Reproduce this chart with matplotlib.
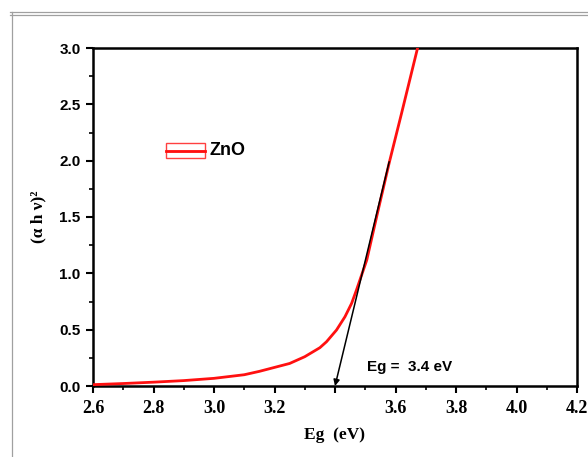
import matplotlib
matplotlib.use("Agg")
import matplotlib.pyplot as plt
from matplotlib.patches import Rectangle
from matplotlib.lines import Line2D
from matplotlib.ticker import MultipleLocator

# Data
energy = [2.60, 2.70, 2.80, 2.90, 3.00, 3.10, 3.15, 3.20, 3.25, 3.30, 3.35,
          3.372, 3.405, 3.433, 3.455, 3.471, 3.488, 3.505, 3.54, 3.58, 3.62, 3.673]
absorb = [0.012, 0.022, 0.034, 0.048, 0.068, 0.10, 0.13, 0.165, 0.20, 0.26, 0.34,
          0.393, 0.497, 0.615, 0.734, 0.852, 0.985, 1.118, 1.53, 1.99, 2.42, 3.0]
series_name = "ZnO"
tangent_start = (3.579, 1.99)
band_gap = 3.4
xtick_vals = [2.6, 2.8, 3.0, 3.2, 3.4, 3.6, 3.8, 4.0, 4.2]
xtick_labels = ["2.6", "2.8", "3.0", "3.2", "", "3.6", "3.8", "4.0", "4.2"]
ytick_vals = [0.0, 0.5, 1.0, 1.5, 2.0, 2.5, 3.0]
ytick_labels = ["0.0", "0.5", "1.0", "1.5", "2.0", "2.5", "3.0"]

W, H = 588, 457
fig = plt.figure(figsize=(W / 100, H / 100), dpi=100)

# screenshot frame lines
frame_col = "#a0a0a0"
fig.add_artist(Line2D([10 / W, 1], [1 - 12 / H, 1 - 12 / H], color=frame_col, lw=0.9))
fig.add_artist(Line2D([10 / W, 1], [1 - 14.5 / H, 1 - 14.5 / H], color=frame_col, lw=0.9))
fig.add_artist(Line2D([11.5 / W, 11.5 / W], [0, 1 - 12 / H], color=frame_col, lw=0.9))

left, right, top, bottom = 93, 577, 48, 386
ax = fig.add_axes([left / W, 1 - bottom / H, (right - left) / W, (bottom - top) / H])

ax.plot(energy, absorb, color="#ff1010", lw=2.0, zorder=3, solid_joinstyle="round")
ax.annotate("", xy=(band_gap, 0.0), xytext=tangent_start,
            arrowprops=dict(arrowstyle="-|>", color="black", lw=1.1,
                            mutation_scale=9, shrinkA=0, shrinkB=0),
            zorder=4)

ax.set_xlim(2.6, 4.2)
ax.set_ylim(0.0, 3.0)
ax.set_xticks(xtick_vals)
ax.set_xticklabels(xtick_labels, fontfamily="Liberation Serif", fontweight="bold", fontsize=13)
ax.set_yticks(ytick_vals)
ax.set_yticklabels(ytick_labels, fontfamily="Liberation Sans", fontweight="bold", fontsize=11)
ax.xaxis.set_minor_locator(MultipleLocator(0.1))
ax.yaxis.set_minor_locator(MultipleLocator(0.25))
ax.tick_params(which="major", direction="out", length=5, width=1.5, pad=5)
ax.tick_params(which="minor", direction="out", length=3, width=1.2)
ax.tick_params(axis="y", which="major", pad=4)
for s in ax.spines.values():
    s.set_linewidth(1.8)

ax.set_xlabel("Eg  (eV)", fontfamily="Liberation Serif", fontweight="bold", fontsize=12.5, labelpad=7)
ax.set_ylabel("(α h ν)²", fontfamily="Liberation Serif", fontweight="bold", fontsize=12.5, labelpad=9)

# legend (Origin style)
lx0, lx1 = (166 - left) / (right - left), (205 - left) / (right - left)
ly_top = (bottom - 143) / (bottom - top)
ly_mid = (bottom - 150.5) / (bottom - top)
ly_bot = (bottom - 158) / (bottom - top)
ax.add_patch(Rectangle((lx0, ly_mid), lx1 - lx0, ly_top - ly_mid, transform=ax.transAxes,
                       fill=False, edgecolor="#ff4040", lw=1.0))
ax.add_patch(Rectangle((lx0, ly_bot), lx1 - lx0, ly_mid - ly_bot, transform=ax.transAxes,
                       fill=False, edgecolor="#ff4040", lw=1.0))
ax.plot([lx0, lx1], [ly_mid, ly_mid], transform=ax.transAxes, color="#ff1010", lw=2.0)
ax.text((209 - left) / (right - left), ly_mid, series_name, transform=ax.transAxes,
        fontfamily="Liberation Sans", fontweight="bold", fontsize=13, va="center", ha="left")

ax.text(3.506, 0.173, "Eg =  3.4 eV", fontfamily="Liberation Sans", fontweight="bold",
        fontsize=11, va="center", ha="left")

fig.savefig("out.png", dpi=100)
